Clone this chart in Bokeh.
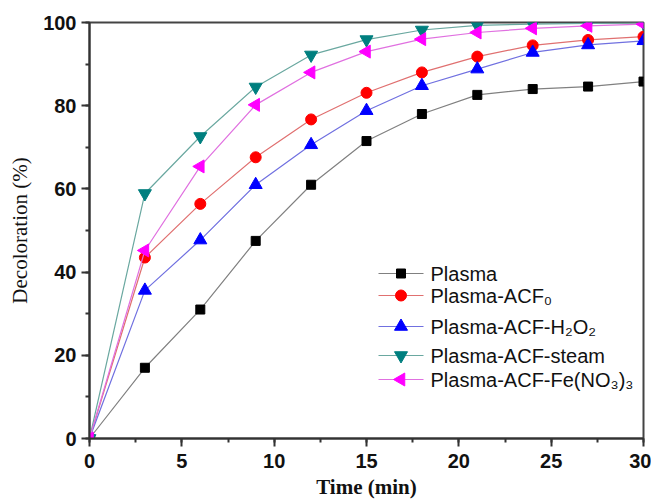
import math
from bokeh.plotting import figure
from bokeh.models import SingleIntervalTicker, Range1d
from bokeh.core.properties import value
from bokeh.embed import file_html
from bokeh.resources import INLINE

time_min = [0, 3, 6, 9, 12, 15, 18, 21, 24, 27, 30]
plasma = [0, 17.0, 31.0, 47.5, 61.0, 71.5, 78.0, 82.6, 84.0, 84.6, 85.8]
plasma_acf0 = [0, 43.5, 56.4, 67.6, 76.7, 83.1, 88.0, 91.8, 94.5, 95.8, 96.6]
plasma_acf_h2o2 = [0, 35.6, 47.7, 61.0, 70.6, 78.8, 84.8, 88.8, 92.8, 94.6, 95.6]
plasma_acf_steam = [0, 58.9, 72.6, 84.5, 92.2, 95.9, 98.2, 99.3, 99.6, 99.8, 99.9]
plasma_acf_fe = [0, 45.2, 65.4, 80.2, 88.0, 93.0, 96.0, 97.6, 98.6, 99.2, 99.6]

series_labels = ["Plasma", "Plasma-ACF\u2080", "Plasma-ACF-H\u2082O\u2082",
                 "Plasma-ACF-steam", "Plasma-ACF-Fe(NO\u2083)\u2083"]

X0, X1, Y0, Y1 = 0, 30, 0, 100
FW, FH = 554, 416

p = figure(width=651, height=498, output_backend="svg", toolbar_location=None,
           x_range=Range1d(X0, X1), y_range=Range1d(Y0, Y1),
           frame_width=FW, frame_height=FH,
           min_border_left=89, min_border_top=22, min_border_right=8, min_border_bottom=40)

p.xgrid.visible = False
p.ygrid.visible = False
p.outline_line_color = "#444444"
p.outline_line_width = 2

styles = [
    ("square", "#000000", "#808080", 9, 0),
    ("circle", "#ff0000", "#e07070", 11, 0),
    ("triangle", "#0000ff", "#7070e0", 13, 0),
    ("inverted_triangle", "#007f7f", "#6aa8a0", 13, 0),
    ("triangle", "#ff00ff", "#e070e0", 13, math.pi / 2),
]
series = [plasma, plasma_acf0, plasma_acf_h2o2, plasma_acf_steam, plasma_acf_fe]

# legend layout (pixel offsets inside the frame, converted to data units)
def dx(px):
    return X0 + px / FW * (X1 - X0)

def dy(px_from_bottom):
    return Y0 + px_from_bottom / FH * (Y1 - Y0)

leg_rows_px = [165, 143, 112, 83, 59]   # row centres, px above frame bottom
leg_x0, leg_x1, leg_text = 289, 334, 341

for ys, (marker, mcol, lcol, size, ang), lab, rpx in zip(series, styles, series_labels, leg_rows_px):
    p.line(time_min, ys, line_color=lcol, line_width=1.2)
    p.scatter(time_min, ys, marker=marker, size=size, angle=ang,
              fill_color=mcol, line_color=mcol)
    ly = dy(rpx)
    p.line([dx(leg_x0), dx(leg_x1)], [ly, ly], line_color=lcol, line_width=1.2)
    p.scatter([dx((leg_x0 + leg_x1) / 2)], [ly], marker=marker, size=size, angle=ang,
              fill_color=mcol, line_color=mcol)
    p.text([dx(leg_text)], [ly], text=[lab], text_baseline="middle", text_align="left",
           text_font=value("Liberation Sans"), text_font_size="20px", text_color="#111111")

for ax in (p.xaxis[0], p.yaxis[0]):
    ax.axis_line_width = 2
    ax.axis_line_color = "#333333"
    ax.major_tick_line_width = 2
    ax.major_tick_line_color = "#333333"
    ax.minor_tick_line_width = 2
    ax.minor_tick_line_color = "#333333"
    ax.major_tick_in = 0
    ax.major_tick_out = 8
    ax.minor_tick_in = 0
    ax.minor_tick_out = 4
    ax.major_label_text_font = "Liberation Sans"
    ax.major_label_text_font_style = "bold"
    ax.major_label_text_font_size = "20px"
    ax.major_label_text_color = "#111111"
    ax.axis_label_text_font = "Liberation Serif"
    ax.axis_label_text_font_size = "21px"
    ax.axis_label_text_color = "#111111"

p.xaxis.ticker = SingleIntervalTicker(interval=5, num_minor_ticks=2)
p.yaxis.ticker = SingleIntervalTicker(interval=20, num_minor_ticks=2)
p.xaxis.axis_label = "Time (min)"
p.xaxis.axis_label_text_font_style = "bold"
p.yaxis.axis_label = "Decoloration (%)"
p.yaxis.axis_label_text_font_style = "normal"
p.xaxis.major_label_standoff = 7
p.yaxis.major_label_standoff = 5
p.xaxis.axis_label_standoff = 4
p.yaxis.axis_label_standoff = 8

open("out.html", "w").write(file_html(p, INLINE))
